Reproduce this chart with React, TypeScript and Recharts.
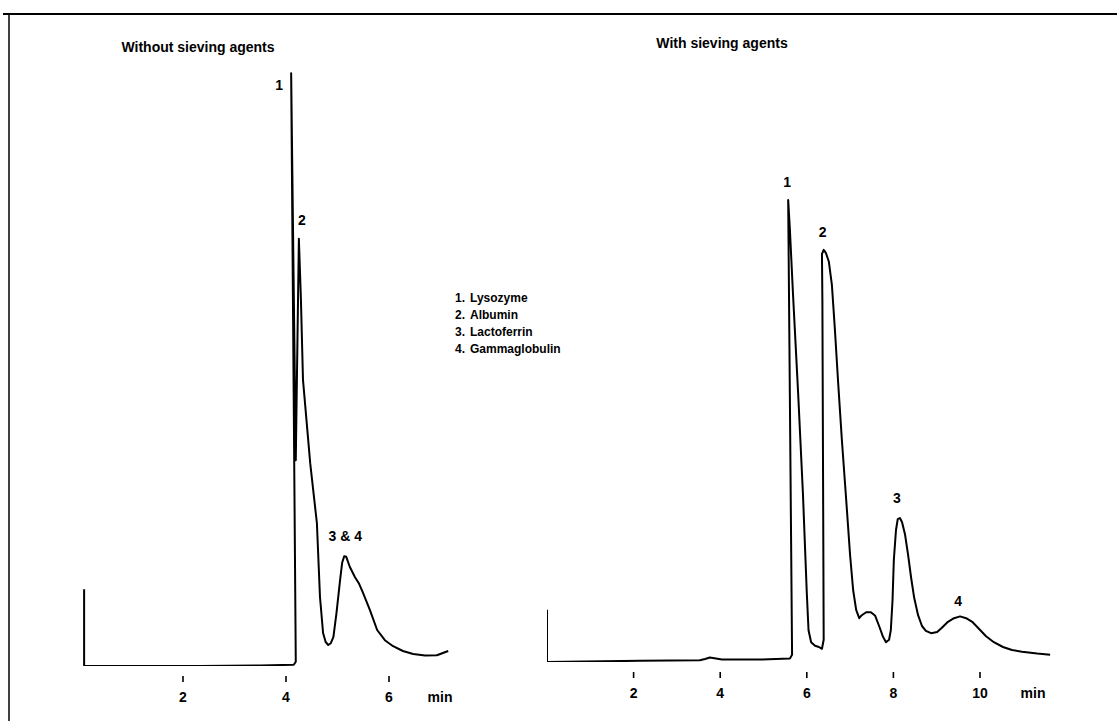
import React from 'react';
import { LineChart, Line, XAxis, YAxis, ReferenceDot } from 'recharts';

// ---- Left panel: without sieving agents ----
const leftTime = [0.08, 0.08, 1.0, 2.33, 3.5, 4.15, 4.19, 4.10, 4.19, 4.25,
  4.29, 4.33, 4.47, 4.60, 4.66, 4.72, 4.77, 4.82, 4.87, 4.92,
  4.98, 5.05, 5.09, 5.13, 5.17, 5.24, 5.34, 5.42, 5.49, 5.63,
  5.77, 5.92, 6.08, 6.27, 6.47, 6.70, 6.93, 7.15];
const leftSignal = [12.8, 0, 0, 0, 0.1, 0.2, 0.7, 98.8, 34.3, 71.2,
  61, 47.7, 33.8, 23.8, 11.5, 5.5, 4.0, 3.5, 3.8, 4.8,
  8.8, 14.3, 17.2, 18.3, 18.2, 16.5, 14.8, 13.7, 12.3, 9.3,
  6.0, 4.3, 3.3, 2.5, 2.0, 1.75, 1.8, 2.5];
const leftTicks = [2, 4, 6];
const leftPeakLabels = [
  { t: 4.10, v: 98.8, text: '1', dx: -12, dy: 12 },
  { t: 4.25, v: 71.2, text: '2', dx: 3, dy: -19 },
  { t: 5.13, v: 18.3, text: '3 & 4', dx: 1, dy: -20 },
];

// ---- Right panel: with sieving agents ----
const rightTime = [0, 0, 2.15, 3.53, 3.65, 3.76, 3.90, 4.04, 4.92, 5.61,
  5.66, 5.57, 5.61, 5.68, 5.80, 5.91, 6.00, 6.04, 6.10, 6.19,
  6.28, 6.35, 6.39, 6.36, 6.35, 6.39, 6.44, 6.51, 6.58, 6.65,
  6.72, 6.81, 6.91, 7.00, 7.07, 7.14, 7.21, 7.27, 7.37, 7.48,
  7.58, 7.67, 7.76, 7.83, 7.90, 7.94, 7.98, 8.01, 8.06, 8.10,
  8.15, 8.20, 8.27, 8.34, 8.41, 8.48, 8.57, 8.66, 8.75, 8.87,
  9.01, 9.12, 9.26, 9.40, 9.54, 9.68, 9.82, 9.98, 10.14, 10.32,
  10.53, 10.74, 10.97, 11.32, 11.62];
const rightSignal = [8.7, 0, 0.2, 0.3, 0.5, 0.75, 0.6, 0.4, 0.4, 0.6,
  1.2, 77, 72, 61.5, 44.8, 28.2, 11.5, 5.3, 3.3, 2.7,
  2.5, 2.2, 3.7, 60.3, 68, 68.7, 68.2, 66.7, 62.8, 55.3,
  47, 37, 27, 17.8, 12, 8.7, 7.3, 7.8, 8.3, 8.3,
  7.7, 6, 4.2, 3.3, 3.7, 5.3, 10.3, 17, 22, 23.8,
  24, 23.3, 21.2, 17.8, 14, 10.7, 7.8, 6, 5.2, 4.8,
  5, 5.7, 6.7, 7.3, 7.6, 7.3, 6.7, 5.5, 4.3, 3.3,
  2.5, 2, 1.7, 1.4, 1.2];
const rightTicks = [2, 4, 6, 8, 10];
const rightPeakLabels = [
  { t: 5.57, v: 77, text: '1', dx: -1, dy: -18 },
  { t: 6.39, v: 68.7, text: '2', dx: -1, dy: -18 },
  { t: 8.15, v: 24, text: '3', dx: -3, dy: -20 },
  { t: 9.54, v: 7.6, text: '4', dx: -2, dy: -15 },
];

const titles = ['Without sieving agents', 'With sieving agents'];
const legendNumbers = ['1.', '2.', '3.', '4.'];
const legendNames = ['Lysozyme', 'Albumin', 'Lactoferrin', 'Gammaglobulin'];
const unitLabel = 'min';

const leftData = leftTime.map((t, i) => ({ t, v: leftSignal[i] }));
const rightData = rightTime.map((t, i) => ({ t, v: rightSignal[i] }));

const FONT = '"Liberation Sans", Arial, Helvetica, sans-serif';

const AxisTick = (props: any) => {
  const { x, y, payload } = props;
  return (
    <g>
      <line x1={x} x2={x} y1={y + 10} y2={y + 16} stroke="#000" strokeWidth={1.6} />
      <text x={x} y={y + 36} textAnchor="middle" fontSize={14} fontWeight="bold" fill="#000" fontFamily={FONT}>
        {payload.value}
      </text>
    </g>
  );
};

const makePeakShape = (text: string, dx: number, dy: number) => (p: any) => (
  <text x={p.cx + dx} y={p.cy + dy + 5} textAnchor="middle" fontSize={14} fontWeight="bold" fill="#000" fontFamily={FONT}>
    {text}
  </text>
);

export default function App() {
  return (
    <div style={{ position: 'absolute', left: 0, top: 0, width: 1117, height: 721, background: '#fff', overflow: 'hidden' }}>
      <svg width={1117} height={721} style={{ position: 'absolute', left: 0, top: 0 }}>
        <line x1={3} x2={1117} y1={14} y2={14} stroke="#000" strokeWidth={2} />
        <line x1={9} x2={9} y1={14} y2={721} stroke="#000" strokeWidth={1.5} />
        <text x={198} y={52} textAnchor="middle" fontSize={14} fontWeight="bold" fontFamily={FONT} fill="#000">{titles[0]}</text>
        <text x={722} y={48} textAnchor="middle" fontSize={14} fontWeight="bold" fontFamily={FONT} fill="#000">{titles[1]}</text>
        {legendNames.map((name, i) => (
          <g key={name}>
            <text x={455} y={301.5 + i * 17} fontSize={12} fontWeight="bold" fontFamily={FONT} fill="#000">{legendNumbers[i]}</text>
            <text x={470} y={301.5 + i * 17} fontSize={12} fontWeight="bold" fontFamily={FONT} fill="#000">{name}</text>
          </g>
        ))}
        <text x={440} y={702} textAnchor="middle" fontSize={14} fontWeight="bold" fontFamily={FONT} fill="#000">{unitLabel}</text>
        <text x={1033} y={698} textAnchor="middle" fontSize={14} fontWeight="bold" fontFamily={FONT} fill="#000">{unitLabel}</text>
      </svg>

      <div style={{ position: 'absolute', left: 60, top: 0 }}>
        <LineChart width={420} height={721} data={leftData} margin={{ top: 66, right: 29.2, left: 20, bottom: 25 }}>
          <XAxis type="number" dataKey="t" domain={[0, 7.2]} ticks={leftTicks} interval={0} axisLine={false} tickLine={false} tickSize={0} tickMargin={0} height={30} tick={<AxisTick />} allowDataOverflow />
          <YAxis type="number" domain={[0, 100]} hide allowDataOverflow />
          <Line type="linear" dataKey="v" stroke="#000" strokeWidth={2} strokeLinejoin="round" dot={false} activeDot={false} isAnimationActive={false} />
          {leftPeakLabels.map((p) => (
            <ReferenceDot key={p.text} x={p.t} y={p.v} r={0} ifOverflow="visible" shape={makePeakShape(p.text, p.dx, p.dy)} />
          ))}
        </LineChart>
      </div>

      <div style={{ position: 'absolute', left: 527, top: 0 }}>
        <LineChart width={560} height={721} data={rightData} margin={{ top: 62, right: 20.4, left: 20, bottom: 29 }}>
          <XAxis type="number" dataKey="t" domain={[0, 12]} ticks={rightTicks} interval={0} axisLine={false} tickLine={false} tickSize={0} tickMargin={0} height={30} tick={<AxisTick />} allowDataOverflow />
          <YAxis type="number" domain={[0, 100]} hide allowDataOverflow />
          <Line type="linear" dataKey="v" stroke="#000" strokeWidth={2} strokeLinejoin="round" dot={false} activeDot={false} isAnimationActive={false} />
          {rightPeakLabels.map((p) => (
            <ReferenceDot key={p.text} x={p.t} y={p.v} r={0} ifOverflow="visible" shape={makePeakShape(p.text, p.dx, p.dy)} />
          ))}
        </LineChart>
      </div>
    </div>
  );
}
